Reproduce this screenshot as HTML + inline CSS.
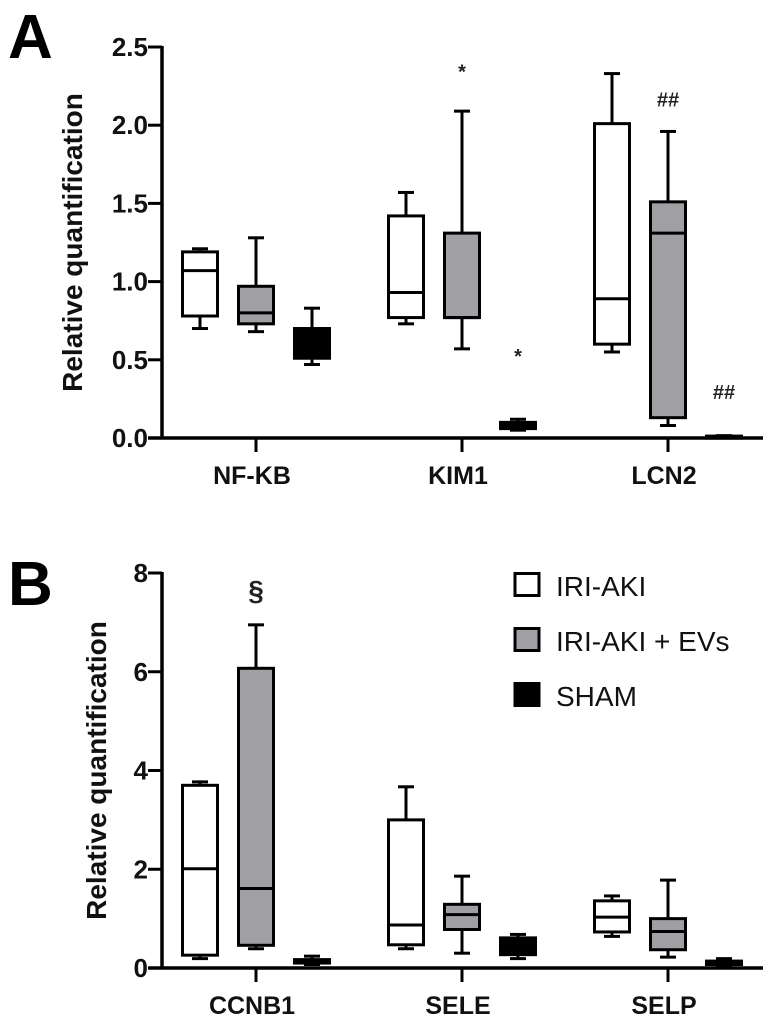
<!DOCTYPE html>
<html><head><meta charset="utf-8"><style>
html,body{margin:0;padding:0;background:#fff;width:770px;height:1031px;overflow:hidden}
svg{display:block;font-family:"Liberation Sans",Arial,sans-serif}
</style></head><body>
<svg id="c" width="770" height="1031" viewBox="0 0 770 1031"></svg>
<script>
const catsA = ["NF-KB","KIM1","LCN2"];
const catsB = ["CCNB1","SELE","SELP"];
const groups = ["IRI-AKI","IRI-AKI + EVs","SHAM"];
const fills = ["#ffffff","#a0a0a4","#000000"];
// [min,q1,median,q3,max] per category per group
const dataA = [
  [[0.70,0.78,1.07,1.19,1.21],[0.68,0.73,0.80,0.97,1.28],[0.47,0.51,0.60,0.70,0.83]],
  [[0.73,0.77,0.93,1.42,1.57],[0.57,0.77,0.77,1.31,2.09],[0.05,0.06,0.08,0.10,0.12]],
  [[0.55,0.60,0.89,2.01,2.33],[0.08,0.13,1.31,1.51,1.96],[0.005,0.008,0.01,0.012,0.015]]
];
const dataB = [
  [[0.19,0.26,2.01,3.70,3.77],[0.39,0.46,1.61,6.07,6.95],[0.07,0.10,0.13,0.17,0.24]],
  [[0.39,0.47,0.87,3.00,3.67],[0.30,0.78,1.08,1.29,1.86],[0.19,0.27,0.44,0.61,0.68]],
  [[0.64,0.73,1.03,1.36,1.46],[0.22,0.37,0.74,1.00,1.78],[0.04,0.07,0.10,0.14,0.19]]
];
const ticksA = [0,0.5,1.0,1.5,2.0,2.5];
const ticksB = [0,2,4,6,8];
const annotA = [{c:1,g:1,v:2.30,t:"*"},{c:1,g:2,v:0.48,t:"*"},{c:2,g:1,v:2.12,t:"##"},{c:2,g:2,v:0.25,t:"##"}];
const annotB = [{c:0,g:1,v:7.45,t:"§"}];

const svg=document.getElementById('c');
const NS="http://www.w3.org/2000/svg";
function mk(tag,at,parent){const e=document.createElementNS(NS,tag);for(const k in at)e.setAttribute(k,at[k]);(parent||svg).appendChild(e);return e;}

function panel(o){
  const g=mk('g',{});
  
  
  const y=v=>o.y0-(v-o.vmin)/(o.vmax-o.vmin)*(o.y0-o.y1);
  const cx=(c,k)=>o.cat0+c*o.catStep+(k-1)*56;
  const L=mk('text',{x:o.lx,y:o.ly,'font-size':62,'font-weight':'bold'},g);L.textContent=o.letter;
  
  
  const ya=mk('line',{x1:162,y1:o.y1-1,x2:162,y2:o.y0+1.5,stroke:'#000','stroke-width':3.5},g);
  
  
  const xa=mk('line',{x1:148,y1:o.y0,x2:763,y2:o.y0,stroke:'#000','stroke-width':3.5},g);
  
  
  o.ticks.forEach(t=>{
    mk('line',{x1:148,y1:y(t),x2:162,y2:y(t),stroke:'#000','stroke-width':3},g);
    const tx=mk('text',{x:148,y:y(t)+9,'font-size':26,'font-weight':'bold','text-anchor':'end',fill:'#111'},g);
    tx.textContent=o.fmt(t);
    
    
  });
  const yt=mk('text',{x:0,y:0,'font-size':28,'font-weight':'bold','text-anchor':'middle',fill:'#111',transform:`translate(${o.tx},${(o.y0+o.y1)/2}) rotate(-90)`},g);
  yt.textContent="Relative quantification";
  
  
  o.cats.forEach((c,i)=>{
    const x=cx(i,1);
    mk('line',{x1:x,y1:o.y0,x2:x,y2:o.y0+14,stroke:'#000','stroke-width':3},g);
    const t=mk('text',{x:x-4,y:o.y0+46,'font-size':25,'font-weight':'bold','text-anchor':'middle',fill:'#111'},g);
    t.textContent=c;
    
    
    o.data[i].forEach((d,k)=>{
      const X=cx(i,k),w=35;
      const bg=mk('g',{},g);
      
      
      mk('line',{x1:X,y1:y(d[4]),x2:X,y2:y(d[0]),stroke:'#000','stroke-width':3},bg);
      mk('line',{x1:X-8,y1:y(d[4]),x2:X+8,y2:y(d[4]),stroke:'#000','stroke-width':3},bg);
      mk('line',{x1:X-8,y1:y(d[0]),x2:X+8,y2:y(d[0]),stroke:'#000','stroke-width':3},bg);
      const hh=Math.max(y(d[1])-y(d[3]),2);
      mk('rect',{x:X-w/2,y:y(d[3]),width:w,height:hh,fill:fills[k],stroke:'#000','stroke-width':3},bg);
      mk('line',{x1:X-w/2,y1:y(d[2]),x2:X+w/2,y2:y(d[2]),stroke:'#000','stroke-width':3},bg);
    });
  });
  o.annot.forEach(a=>{
    const t=mk('text',{x:cx(a.c,a.g),y:y(a.v),'font-size':a.t=="§"?28:20,'font-weight':'bold','text-anchor':'middle',fill:'#222'},g);
    t.textContent=a.t;
    
    
  });
}
panel({name:'panel-a',letter:'A',lx:8,ly:58,y0:438,y1:47,vmin:0,vmax:2.5,ticks:ticksA,fmt:t=>t.toFixed(1),cats:catsA,data:dataA,cat0:256,catStep:206,tx:82,annot:annotA});
panel({name:'panel-b',letter:'B',lx:8,ly:605,y0:968,y1:573,vmin:0,vmax:8,ticks:ticksB,fmt:t=>String(t),cats:catsB,data:dataB,cat0:256,catStep:206,tx:106,annot:annotB});

const lg=mk('g',{});


groups.forEach((n,i)=>{
  const yy=572+i*55;
  const e=mk('g',{},lg);
  
  
  mk('rect',{x:515,y:yy+1.5,width:24,height:22,fill:fills[i],stroke:'#000','stroke-width':3},e);
  const t=mk('text',{x:556,y:yy+24,'font-size':28,fill:'#111'},e);
  t.textContent=n;
});
</script>
</body></html>
